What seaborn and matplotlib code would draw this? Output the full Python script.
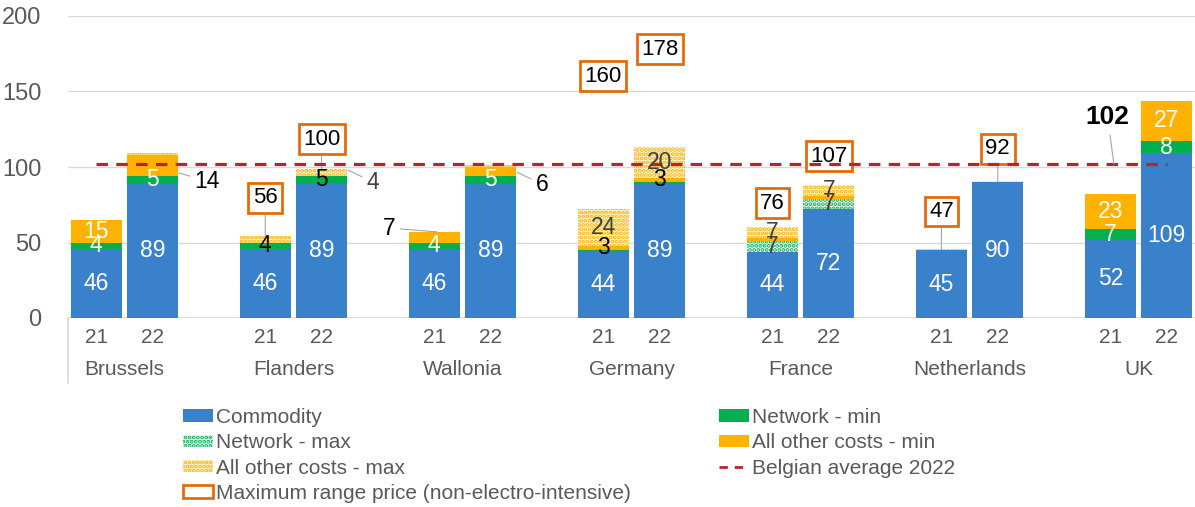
import matplotlib
matplotlib.use('Agg')
import matplotlib.pyplot as plt
import seaborn as sns
import pandas as pd
from matplotlib.patches import Patch
from matplotlib.lines import Line2D

# ---------------- data ----------------
categories = ['Brussels', 'Flanders', 'Wallonia', 'Germany', 'France', 'Netherlands', 'UK']
years = ['21', '22']
y_ticks = [0, 50, 100, 150, 200]

commodity_21 = [46, 46, 46, 44, 44, 45, 52]
commodity_22 = [89, 89, 89, 89, 72, 90, 109]
network_min_21 = [4, 4, 4, 1, 0, 0, 7]
network_min_22 = [5, 5, 5, 1, 0, 0, 8]
network_max_21 = [0, 0, 0, 0, 7, 0, 0]
network_max_22 = [0, 0, 0, 0, 7, 0, 0]
other_min_21 = [15, 0, 7, 3, 2, 0, 23]
other_min_22 = [14, 0, 6, 3, 2, 0, 27]
other_max_21 = [0, 4.4, 0, 24, 7, 0.4, 0]
other_max_22 = [1, 4.4, 1, 20, 7, 0.4, 0]
max_price_21 = [None, 56, None, 160, 76, 47, None]
max_price_22 = [None, 100, None, 178, 107, 92, None]
belgian_avg_2022 = 102

series_keys = ['commodity', 'network_min', 'network_max', 'other_min', 'other_max']
values = {
    'commodity': (commodity_21, commodity_22),
    'network_min': (network_min_21, network_min_22),
    'network_max': (network_max_21, network_max_22),
    'other_min': (other_min_21, other_min_22),
    'other_max': (other_max_21, other_max_22),
}
max_price = (max_price_21, max_price_22)

# ---------------- styles ----------------
BLUE = '#3A81CB'
GREEN = '#00B050'
ORANGE = '#FFB300'
RED = '#B3272C'
BOXEDGE = '#E36C09'
GRAY = '#595959'
DGRAY = '#404040'
HATCH = '....'
style = {
    'commodity': dict(fc=BLUE, ec=BLUE, hatch=None),
    'network_min': dict(fc=GREEN, ec=GREEN, hatch=None),
    'network_max': dict(fc='white', ec=GREEN, hatch=HATCH),
    'other_min': dict(fc=ORANGE, ec=ORANGE, hatch=None),
    'other_max': dict(fc='#FFF6DC', ec=ORANGE, hatch=HATCH),
}
label_color = {'commodity': 'white', 'network_min': 'white', 'network_max': DGRAY,
               'other_min': 'white', 'other_max': DGRAY}
label_color_override = {('network_min', 'Flanders'): 'black', ('other_min', 'Germany'): 'black'}
hidden_labels = {('other_max', 'Flanders', '21')}
# outside labels: (text dx, text y, point dx, point y, colour)
outside_labels = {
    ('other_min', 'Brussels', '22'): (0.97, 90.7, 0.47, 96, 'black'),
    ('other_max', 'Flanders', '22'): (0.91, 90.0, 0.47, 98, DGRAY),
    ('other_min', 'Wallonia', '21'): (-0.80, 59.6, 0.05, 57, 'black'),
    ('other_min', 'Wallonia', '22'): (0.91, 88.7, 0.47, 96.5, 'black'),
}
box_label_y = {('Flanders', '21'): 79.5, ('Flanders', '22'): 118.5,
               ('Netherlands', '21'): 70.5, ('Netherlands', '22'): 112}

LABEL_FS = 16.5
BOX_FS = 16

# ---------------- build table ----------------
rows = []
for i, cat in enumerate(categories):
    for j, yr in enumerate(years):
        r = {'category': cat, 'year': yr, 'pos': 3 * i + j}
        cum = 0
        for k in series_keys:
            v = values[k][j][i]
            r[k] = v
            r['bottom_' + k] = cum
            cum += v
            r['cum_' + k] = cum
        r['max_price'] = max_price[j][i]
        rows.append(r)
df = pd.DataFrame(rows)

# ---------------- figure ----------------
sns.set_theme(style='white')
plt.rcParams['font.family'] = ['Liberation Sans', 'DejaVu Sans']
plt.rcParams['hatch.linewidth'] = 2.0

W, H = 1195, 507
fig = plt.figure(figsize=(W / 100, H / 100), dpi=100)
ax = fig.add_axes([68 / W, 189 / H, 1127 / W, 302 / H])

# stacked bars via overlapping cumulative seaborn bars (top layer first)
for k in reversed(series_keys):
    n0 = len(ax.patches)
    sns.barplot(data=df, x='pos', y='cum_' + k, native_scale=True, errorbar=None,
                width=0.9, color=style[k]['fc'], ax=ax, zorder=2)
    for p in ax.patches[n0:]:
        p.set_facecolor(style[k]['fc'])
        p.set_edgecolor(style[k]['ec'])
        p.set_linewidth(0)
        if style[k]['hatch']:
            p.set_hatch(style[k]['hatch'])

ax.set_xlim(-0.5, 19.5)
ax.set_ylim(0, 200)
ax.set_yticks(y_ticks)
ax.set_yticklabels([str(t) for t in y_ticks], fontsize=17, color=GRAY)
ax.tick_params(axis='y', length=0, pad=19)
ax.set_xticks([])
ax.set_xlabel('')
ax.set_ylabel('')
for s in ax.spines.values():
    s.set_visible(False)
ax.yaxis.grid(True, color='#D9D9D9', lw=1)
ax.set_axisbelow(True)
ax.axhline(0, color='#D9D9D9', lw=1.2, zorder=1)
ax.plot([0, 0], [0, -0.215], transform=ax.transAxes, color='#D9D9D9', lw=1.2, clip_on=False)

# x labels
xt = ax.get_xaxis_transform()
for _, r in df.iterrows():
    ax.text(r['pos'], -0.063, r['year'], transform=xt, ha='center', va='center',
            fontsize=15, color=GRAY)
for i, cat in enumerate(categories):
    ax.text(3 * i + 0.5, -0.169, cat, transform=xt, ha='center', va='center',
            fontsize=15, color=GRAY)

# Belgian average line
line_x = [df['pos'].min(), df['pos'].max()]
sns.lineplot(x=line_x, y=[belgian_avg_2022] * 2, ax=ax, color=RED, lw=2.3,
             linestyle=(0, (3.6, 2.6)), zorder=4)
ax.annotate(str(belgian_avg_2022), xy=(18.06, belgian_avg_2022), xytext=(17.95, 133),
            ha='center', va='center', fontsize=19, fontweight='bold', color='black',
            arrowprops=dict(arrowstyle='-', color='#A6A6A6', lw=0.8, shrinkA=2, shrinkB=0),
            zorder=6)

# segment labels
for _, r in df.iterrows():
    for k in series_keys:
        v = r[k]
        key = (k, r['category'], r['year'])
        if v < 3 or key in hidden_labels:
            continue
        txt = f'{v:.0f}'
        if key in outside_labels:
            tdx, ty, pdx, py, col = outside_labels[key]
            ax.annotate(txt, xy=(r['pos'] + pdx, py), xytext=(r['pos'] + tdx, ty),
                        ha='center', va='center', fontsize=LABEL_FS, color=col,
                        arrowprops=dict(arrowstyle='-', color='#A6A6A6', lw=0.8,
                                        shrinkA=1, shrinkB=0), zorder=6)
            continue
        col = label_color_override.get((k, r['category']), label_color[k])
        ax.text(r['pos'], r['bottom_' + k] + v / 2, txt, ha='center', va='center',
                fontsize=LABEL_FS, color=col, zorder=6)

# maximum range price boxes
for _, r in df.iterrows():
    mp = r['max_price']
    if mp is None or pd.isna(mp):
        continue
    key = (r['category'], r['year'])
    top = r['cum_other_max']
    bbox = dict(boxstyle='square,pad=0.2', fc='white', ec=BOXEDGE, lw=2)
    if key in box_label_y:
        ax.annotate(f'{mp:.0f}', xy=(r['pos'], top), xytext=(r['pos'], box_label_y[key]),
                    ha='center', va='center', fontsize=BOX_FS, color='black', bbox=bbox,
                    arrowprops=dict(arrowstyle='-', color='#A6A6A6', lw=0.8,
                                    shrinkA=0, shrinkB=0), zorder=3)
    else:
        ax.text(r['pos'], mp, f'{mp:.0f}', ha='center', va='center', fontsize=BOX_FS,
                color='black', bbox=bbox, zorder=3)

# legend
h = {
    'Commodity': Patch(fc=BLUE, ec=BLUE, lw=0),
    'Network - min': Patch(fc=GREEN, ec=GREEN, lw=0),
    'Network - max': Patch(fc='white', ec=GREEN, hatch=HATCH, lw=0),
    'All other costs - min': Patch(fc=ORANGE, ec=ORANGE, lw=0),
    'All other costs - max': Patch(fc='#FFF6DC', ec=ORANGE, hatch=HATCH, lw=0),
    'Belgian average 2022': Line2D([], [], color=RED, lw=2, linestyle=(0, (3, 2.5))),
    'Maximum range price (non-electro-intensive)': Patch(fc='white', ec=BOXEDGE, lw=2),
}
order = ['Commodity', 'Network - max', 'All other costs - max',
         'Maximum range price (non-electro-intensive)',
         'Network - min', 'All other costs - min', 'Belgian average 2022']
leg = fig.legend([h[o] for o in order], order, loc='upper left',
                 bbox_to_anchor=(183 / W, (H - 408) / H), ncol=2, frameon=False,
                 borderpad=0, borderaxespad=0, handlelength=1.45, handleheight=0.55,
                 handletextpad=0.15, columnspacing=4.2, labelspacing=0.3, fontsize=15)
for t in leg.get_texts():
    t.set_color(GRAY)

fig.savefig('out.png', dpi=100)
